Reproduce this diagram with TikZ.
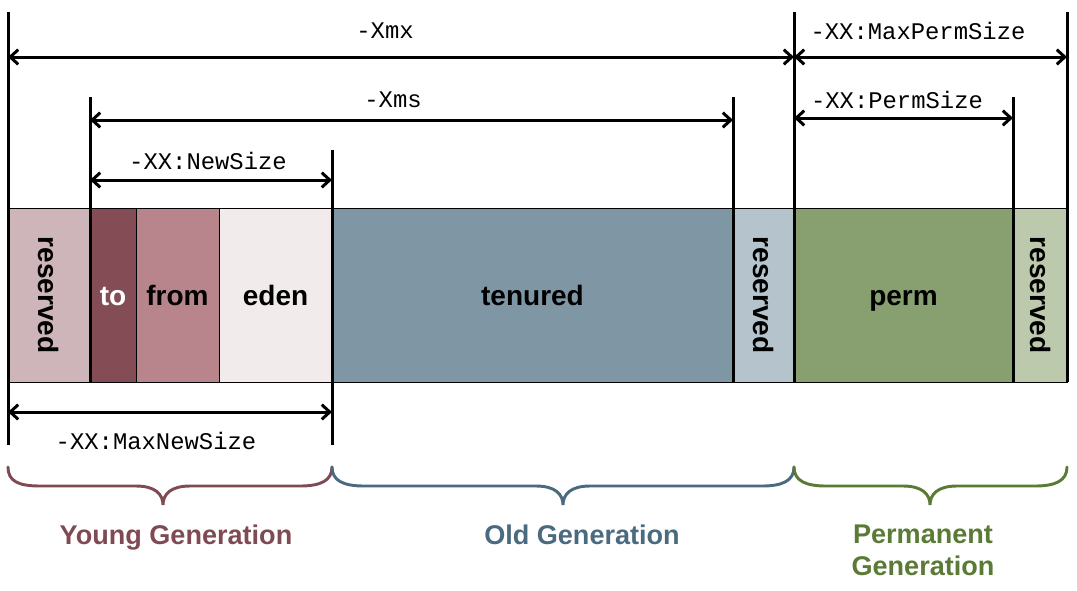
\documentclass[tikz,border=0pt]{standalone}
\usepackage{fontspec}
\setmainfont{Liberation Sans}
\newfontfamily\monof{Liberation Mono}
\usetikzlibrary{arrows.meta,fit}
\definecolor{cResY}{HTML}{CDB5B9}
\definecolor{cTo}{HTML}{844D56}
\definecolor{cFrom}{HTML}{B8858C}
\definecolor{cEden}{HTML}{F2EBEB}
\definecolor{cTen}{HTML}{7F97A5}
\definecolor{cResO}{HTML}{B4C3CC}
\definecolor{cPerm}{HTML}{88A070}
\definecolor{cResP}{HTML}{BCC9AC}
\definecolor{gYoung}{HTML}{7F4A53}
\definecolor{gOld}{HTML}{4A6A80}
\definecolor{gPerm}{HTML}{5A7A35}
\tikzset{
  box/.style={draw=black, line width=0.75pt, inner sep=0pt},
  boxtext/.style={font=\fontsize{21}{24}\selectfont\bfseries, inner sep=0pt},
  vline/.style={draw=black, line width=2.25pt},
  dim/.style={draw=black, line width=2.25pt, {Straight Barb[length=6pt,width=11pt,line width=2.25pt]}-{Straight Barb[length=6pt,width=11pt,line width=2.25pt]}},
  dimlabel/.style={font=\monof\fontsize{17.9}{20}\selectfont, inner sep=0pt},
  brace/.style={line width=2.2pt, line cap=round},
  genlabel/.style={font=\fontsize{20.3}{24}\selectfont\bfseries, align=center, inner sep=0pt}
}
\begin{document}
\begin{tikzpicture}[x=0.75pt,y=-0.75pt]
\useasboundingbox (0,0) rectangle (1077,590);
% boxes
\node[box, fill=cResY, fit={(8,208) (90,382)}] (resY) {};
\node[box, fill=cTo, fit={(90,208) (136,382)}] (to) {};
\node[box, fill=cFrom, fit={(136,208) (219,382)}] (from) {};
\node[box, fill=cEden, fit={(219,208) (332,382)}] (eden) {};
\node[box, fill=cTen, fit={(332,208) (733,382)}] (ten) {};
\node[box, fill=cResO, fit={(733,208) (794,382)}] (resO) {};
\node[box, fill=cPerm, fit={(794,208) (1013,382)}] (perm) {};
\node[box, fill=cResP, fit={(1013,208) (1067,382)}] (resP) {};
% box texts
\node[boxtext] (tResY) at (resY.center) {\rotatebox{-90}{reserved}};
\node[boxtext, text=white, anchor=base] (tTo) at (to.center |- 0,305) {to};
\node[boxtext, anchor=base] (tFrom) at (from.center |- 0,305) {from};
\node[boxtext, anchor=base] (tEden) at (eden.center |- 0,305) {eden};
\node[boxtext, anchor=base] (tTen) at (ten.center |- 0,305) {tenured};
\node[boxtext] (tResO) at (resO.center) {\rotatebox{-90}{reserved}};
\node[boxtext, anchor=base] (tPerm) at (perm.center |- 0,305) {perm};
\node[boxtext] (tResP) at (resP.center) {\rotatebox{-90}{reserved}};
% vertical line ends
\coordinate (v1t) at (8,12);   \coordinate (v1b) at (8,445);
\coordinate (v2t) at (90,97);  \coordinate (v2b) at (90,382);
\coordinate (v3t) at (332,150); \coordinate (v3b) at (332,445);
\coordinate (v4t) at (733,97); \coordinate (v4b) at (733,382);
\coordinate (v5t) at (794,12); \coordinate (v5b) at (794,382);
\coordinate (v6t) at (1013,97); \coordinate (v6b) at (1013,382);
\coordinate (v7t) at (1067,12); \coordinate (v7b) at (1067,382);
\foreach \i in {1,...,7} {\draw[vline] (v\i t) -- (v\i b);}
% dimension arrows
\coordinate (xmxL) at (8,57);   \coordinate (xmxR) at (794,57);
\coordinate (mpL) at (794,57);  \coordinate (mpR) at (1067,57);
\coordinate (xmsL) at (90,120); \coordinate (xmsR) at (733,120);
\coordinate (psL) at (794,118); \coordinate (psR) at (1013,118);
\coordinate (nsL) at (90,180);  \coordinate (nsR) at (332,180);
\coordinate (mnL) at (8,412);   \coordinate (mnR) at (332,412);
\draw[dim] (xmxL) -- (xmxR);
\draw[dim] (mpL) -- (mpR);
\draw[dim] (xmsL) -- (xmsR);
\draw[dim] (psL) -- (psR);
\draw[dim] (nsL) -- (nsR);
\draw[dim] (mnL) -- (mnR);
\node[dimlabel] (lxmx) at (385,31) {-Xmx};
\node[dimlabel] (lmp) at (918,31) {-XX:MaxPermSize};
\node[dimlabel] (lxms) at (393,100) {-Xms};
\node[dimlabel] (lps) at (897,100) {-XX:PermSize};
\node[dimlabel] (lns) at (208,161) {-XX:NewSize};
\node[dimlabel] (lmn) at (156,441) {-XX:MaxNewSize};
% braces
\draw[brace, draw=gYoung] (8,467) .. controls (8,481) and (18,486) .. (40,486) -- (136,486) .. controls (155,486) and (163,494) .. (163,505)
  .. controls (163,494) and (171,486) .. (190,486) -- (300,486) .. controls (320,486) and (332,481) .. (332,467);
\draw[brace, draw=gOld] (332,467) .. controls (332,481) and (344,486) .. (364,486) -- (536,486) .. controls (555,486) and (563,494) .. (563,505)
  .. controls (563,494) and (571,486) .. (590,486) -- (762,486) .. controls (782,486) and (794,481) .. (794,467);
\draw[brace, draw=gPerm] (794,467) .. controls (794,481) and (806,486) .. (826,486) -- (903,486) .. controls (922,486) and (930,494) .. (930,505)
  .. controls (930,494) and (938,486) .. (957,486) -- (1035,486) .. controls (1055,486) and (1067,481) .. (1067,467);
% generation labels
\node[genlabel, text=gYoung, anchor=base] (gy) at (176,544) {Young Generation};
\node[genlabel, text=gOld, anchor=base] (go) at (582,544) {Old Generation};
\node[genlabel, text=gPerm, anchor=base] (gp) at (923,575) {Permanent\\Generation};
\end{tikzpicture}
\end{document}
